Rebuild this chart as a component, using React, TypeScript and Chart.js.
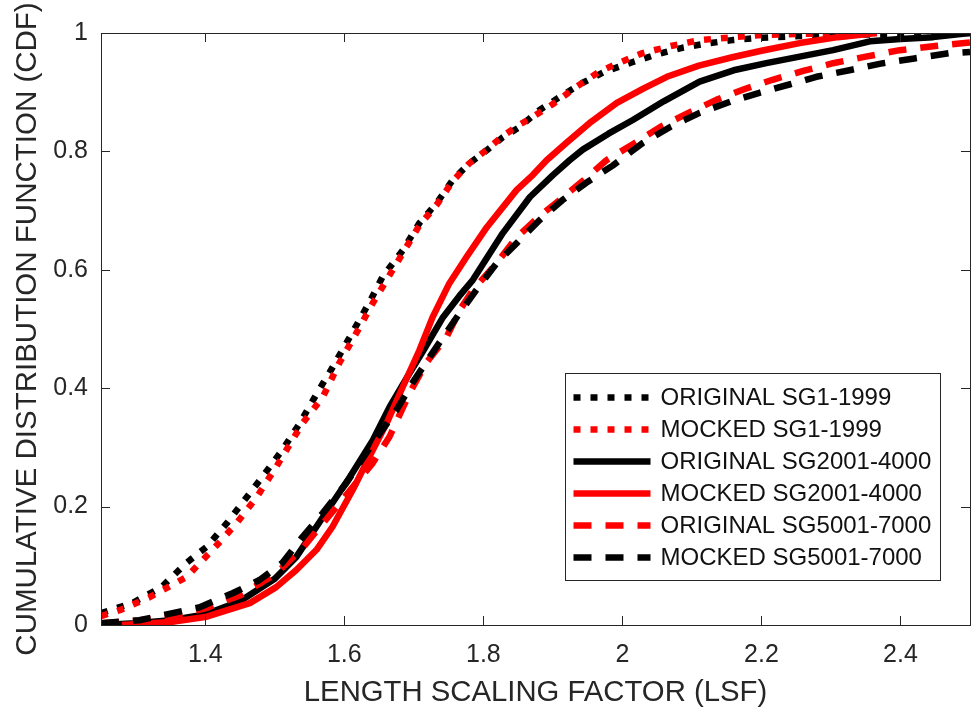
import React, { useEffect, useRef } from "react";
import { Chart, registerables } from "chart.js";

Chart.register(...registerables);

// ---- axis ticks ----
const xTicks = [1.4, 1.6, 1.8, 2, 2.2, 2.4];
const yTicks = [0, 0.2, 0.4, 0.6, 0.8, 1];

// ---- series labels ----
const seriesLabels = [
  "ORIGINAL SG1-1999",
  "MOCKED SG1-1999",
  "ORIGINAL SG2001-4000",
  "MOCKED SG2001-4000",
  "ORIGINAL SG5001-7000",
  "MOCKED SG5001-7000",
];

// ORIGINAL SG1-1999 (black dotted)
const origSG1X = [1.25, 1.295, 1.337, 1.373, 1.402, 1.431, 1.459, 1.482, 1.511, 1.536, 1.56, 1.583, 1.612, 1.636, 1.655, 1.684, 1.708, 1.733, 1.756, 1.78, 1.805, 1.828, 1.852, 1.881, 1.91, 1.943, 1.975, 2.015, 2.05, 2.086, 2.12, 2.158, 2.2, 2.255, 2.32, 2.4, 2.5];
const origSG1Y = [0.02, 0.037, 0.064, 0.105, 0.132, 0.172, 0.215, 0.25, 0.296, 0.341, 0.39, 0.435, 0.495, 0.545, 0.588, 0.633, 0.679, 0.713, 0.752, 0.78, 0.802, 0.824, 0.841, 0.87, 0.892, 0.916, 0.935, 0.951, 0.964, 0.975, 0.982, 0.988, 0.992, 0.995, 0.997, 0.998, 1.0];

// MOCKED SG1-1999 (red dotted)
const mockSG1X = [1.25, 1.277, 1.32, 1.373, 1.42, 1.445, 1.474, 1.502, 1.54, 1.569, 1.593, 1.622, 1.641, 1.661, 1.684, 1.708, 1.733, 1.756, 1.78, 1.805, 1.828, 1.852, 1.871, 1.9, 1.935, 1.967, 2.0, 2.029, 2.07, 2.111, 2.16, 2.207, 2.28, 2.366];
const mockSG1Y = [0.015, 0.025, 0.047, 0.081, 0.139, 0.172, 0.216, 0.267, 0.341, 0.385, 0.443, 0.503, 0.544, 0.583, 0.628, 0.675, 0.71, 0.75, 0.78, 0.803, 0.826, 0.845, 0.858, 0.88, 0.91, 0.935, 0.952, 0.966, 0.978, 0.988, 0.993, 0.997, 0.999, 1.0];

// ORIGINAL SG2001-4000 (black solid)
const origSG2X = [1.25, 1.3, 1.35, 1.4, 1.45, 1.5, 1.531, 1.569, 1.608, 1.641, 1.665, 1.69, 1.715, 1.742, 1.765, 1.785, 1.805, 1.828, 1.867, 1.9, 1.924, 1.943, 1.98, 2.015, 2.06, 2.111, 2.16, 2.207, 2.255, 2.303, 2.356, 2.4, 2.447, 2.5];
const origSG2Y = [0.0, 0.003, 0.008, 0.018, 0.04, 0.078, 0.115, 0.182, 0.25, 0.312, 0.368, 0.418, 0.466, 0.52, 0.555, 0.583, 0.62, 0.662, 0.723, 0.76, 0.785, 0.803, 0.83, 0.853, 0.885, 0.918, 0.937, 0.949, 0.96, 0.971, 0.986, 0.99, 0.993, 1.0];

// MOCKED SG2001-4000 (red solid)
const mockSG2X = [1.28, 1.35, 1.402, 1.464, 1.502, 1.531, 1.56, 1.583, 1.612, 1.636, 1.661, 1.684, 1.708, 1.727, 1.751, 1.776, 1.805, 1.848, 1.871, 1.891, 1.92, 1.955, 1.992, 2.03, 2.064, 2.11, 2.158, 2.2, 2.255, 2.31, 2.366];
const mockSG2Y = [0.0, 0.005, 0.014, 0.037, 0.064, 0.093, 0.127, 0.166, 0.228, 0.284, 0.341, 0.402, 0.464, 0.52, 0.577, 0.622, 0.672, 0.735, 0.76, 0.785, 0.815, 0.85, 0.882, 0.906, 0.926, 0.945, 0.959, 0.97, 0.983, 0.993, 1.0];

// ORIGINAL SG5001-7000 (red dashed)
const origSG5X = [1.25, 1.3, 1.35, 1.4, 1.45, 1.5, 1.54, 1.575, 1.61, 1.64, 1.665, 1.694, 1.718, 1.747, 1.766, 1.785, 1.819, 1.848, 1.88, 1.91, 1.945, 1.977, 2.015, 2.054, 2.095, 2.135, 2.175, 2.216, 2.26, 2.303, 2.35, 2.399, 2.45, 2.5];
const origSG5Y = [0.003, 0.007, 0.015, 0.028, 0.05, 0.085, 0.13, 0.18, 0.23, 0.272, 0.318, 0.392, 0.443, 0.486, 0.532, 0.566, 0.611, 0.655, 0.69, 0.718, 0.752, 0.785, 0.812, 0.841, 0.865, 0.887, 0.905, 0.921, 0.936, 0.949, 0.96, 0.971, 0.978, 0.984];

// MOCKED SG5001-7000 (black dashed)
const mockSG5X = [1.25, 1.305, 1.392, 1.44, 1.478, 1.511, 1.54, 1.569, 1.603, 1.641, 1.675, 1.698, 1.723, 1.742, 1.766, 1.79, 1.819, 1.848, 1.881, 1.914, 1.948, 1.986, 2.029, 2.07, 2.111, 2.155, 2.197, 2.24, 2.279, 2.33, 2.375, 2.42, 2.471, 2.5];
const mockSG5Y = [0.003, 0.008, 0.03, 0.054, 0.076, 0.105, 0.149, 0.189, 0.24, 0.307, 0.363, 0.409, 0.453, 0.486, 0.527, 0.566, 0.611, 0.645, 0.684, 0.718, 0.747, 0.776, 0.814, 0.842, 0.865, 0.884, 0.899, 0.913, 0.926, 0.938, 0.949, 0.957, 0.966, 0.968];

const seriesX = [origSG1X, mockSG1X, origSG2X, mockSG2X, origSG5X, mockSG5X];
const seriesY = [origSG1Y, mockSG1Y, origSG2Y, mockSG2Y, origSG5Y, mockSG5Y];

const BLACK = "#000000";
const RED = "#ff0000";
const AXIS = "#262626";
const FONT = "'Liberation Sans', Arial, Helvetica, sans-serif";

const DOT = [7, 10];
const DASH = [18, 14];
const seriesColors = [BLACK, RED, BLACK, RED, RED, BLACK];
const seriesDash = [DOT, DOT, [], [], DASH, DASH];

const framePlugin = {
  id: "frameAndLegend",
  afterDatasetsDraw(chart: any) {
    const { ctx, chartArea } = chart;
    const { left, right, top, bottom } = chartArea;
    const xs = chart.scales.x;
    const ys = chart.scales.y;
    ctx.save();
    ctx.strokeStyle = AXIS;
    ctx.lineWidth = 1;
    ctx.setLineDash([]);
    ctx.strokeRect(Math.round(left) + 0.5, Math.round(top) + 0.5, Math.round(right - left), Math.round(bottom - top));
    const tl = 9;
    ctx.beginPath();
    xs.ticks.forEach((t: any) => {
      const px = Math.round(xs.getPixelForValue(t.value)) + 0.5;
      ctx.moveTo(px, bottom);
      ctx.lineTo(px, bottom - tl);
      ctx.moveTo(px, top);
      ctx.lineTo(px, top + tl);
    });
    ys.ticks.forEach((t: any) => {
      const py = Math.round(ys.getPixelForValue(t.value)) + 0.5;
      ctx.moveTo(left, py);
      ctx.lineTo(left + tl, py);
      ctx.moveTo(right, py);
      ctx.lineTo(right - tl, py);
    });
    ctx.stroke();

    // legend
    const bw = 375;
    const bh = 207;
    const bx = Math.round(right - 30 - bw) + 0.5;
    const by = Math.round(bottom - 45 - bh) + 0.5;
    ctx.fillStyle = "#ffffff";
    ctx.fillRect(bx, by, bw, bh);
    ctx.strokeStyle = AXIS;
    ctx.lineWidth = 1;
    ctx.strokeRect(bx, by, bw, bh);
    ctx.font = `24px ${FONT}`;
    ctx.textBaseline = "middle";
    ctx.textAlign = "left";
    chart.data.datasets.forEach((ds: any, i: number) => {
      const cy = by + 24 + i * 32;
      ctx.beginPath();
      ctx.strokeStyle = ds.borderColor;
      ctx.lineWidth = ds.borderWidth;
      ctx.lineCap = "butt";
      ctx.setLineDash(ds.borderDash || []);
      ctx.moveTo(bx + 8, cy);
      ctx.lineTo(bx + 85, cy);
      ctx.stroke();
      ctx.setLineDash([]);
      ctx.fillStyle = "#111111";
      ctx.fillText(ds.label, bx + 95, cy + 1);
    });
    ctx.restore();
  },
};

export default function App() {
  const ref = useRef<HTMLCanvasElement | null>(null);
  useEffect(() => {
    if (!ref.current) return;
    const datasets = seriesLabels.map((label, i) => ({
      label,
      data: seriesX[i].map((x, j) => ({ x, y: seriesY[i][j] })),
      borderColor: seriesColors[i],
      backgroundColor: seriesColors[i],
      borderWidth: 6.5,
      borderDash: seriesDash[i],
      borderJoinStyle: "round" as const,
      pointRadius: 0,
      pointHoverRadius: 0,
      fill: false,
      tension: 0,
      order: seriesLabels.length - i,
    }));
    const chart = new Chart(ref.current, {
      type: "line",
      data: { datasets },
      options: {
        animation: false,
        responsive: false,
        devicePixelRatio: 1,
        parsing: true,
        layout: { padding: { top: 33, right: 4, left: 0, bottom: 0 } },
        plugins: {
          legend: { display: false },
          tooltip: { enabled: false },
          title: { display: false },
        },
        scales: {
          x: {
            type: "linear",
            min: 1.25,
            max: 2.5,
            afterBuildTicks: (s: any) => {
              s.ticks = xTicks.map((v) => ({ value: v }));
            },
            afterFit: (s: any) => {
              s.height = 83;
            },
            grid: { display: false, drawTicks: false },
            border: { display: false },
            ticks: {
              font: { family: FONT, size: 25 },
              color: AXIS,
              padding: 15,
              maxRotation: 0,
              autoSkip: false,
              callback: (v: any) => String(v),
            },
            title: {
              display: true,
              text: "LENGTH SCALING FACTOR (LSF)",
              font: { family: FONT, size: 29.3, lineHeight: 1 },
              color: AXIS,
              padding: { top: 0, bottom: 0 },
            },
          },
          y: {
            type: "linear",
            min: 0,
            max: 1,
            afterBuildTicks: (s: any) => {
              s.ticks = yTicks.map((v) => ({ value: v }));
            },
            afterFit: (s: any) => {
              s.width = 101;
            },
            grid: { display: false, drawTicks: false },
            border: { display: false },
            ticks: {
              font: { family: FONT, size: 25 },
              color: AXIS,
              padding: 13,
              autoSkip: false,
              callback: (v: any) => String(v),
            },
            title: {
              display: true,
              text: "CUMULATIVE DISTRIBUTION FUNCTION (CDF)",
              font: { family: FONT, size: 29.5, lineHeight: 1 },
              color: AXIS,
              padding: { top: 13, bottom: 0 },
            },
          },
        },
      },
      plugins: [framePlugin],
    });
    return () => chart.destroy();
  }, []);
  return (
    <div style={{ position: "absolute", left: 0, top: 0, width: 974, height: 708, background: "#fff" }}>
      <canvas ref={ref} width={974} height={708} style={{ display: "block" }} />
    </div>
  );
}
